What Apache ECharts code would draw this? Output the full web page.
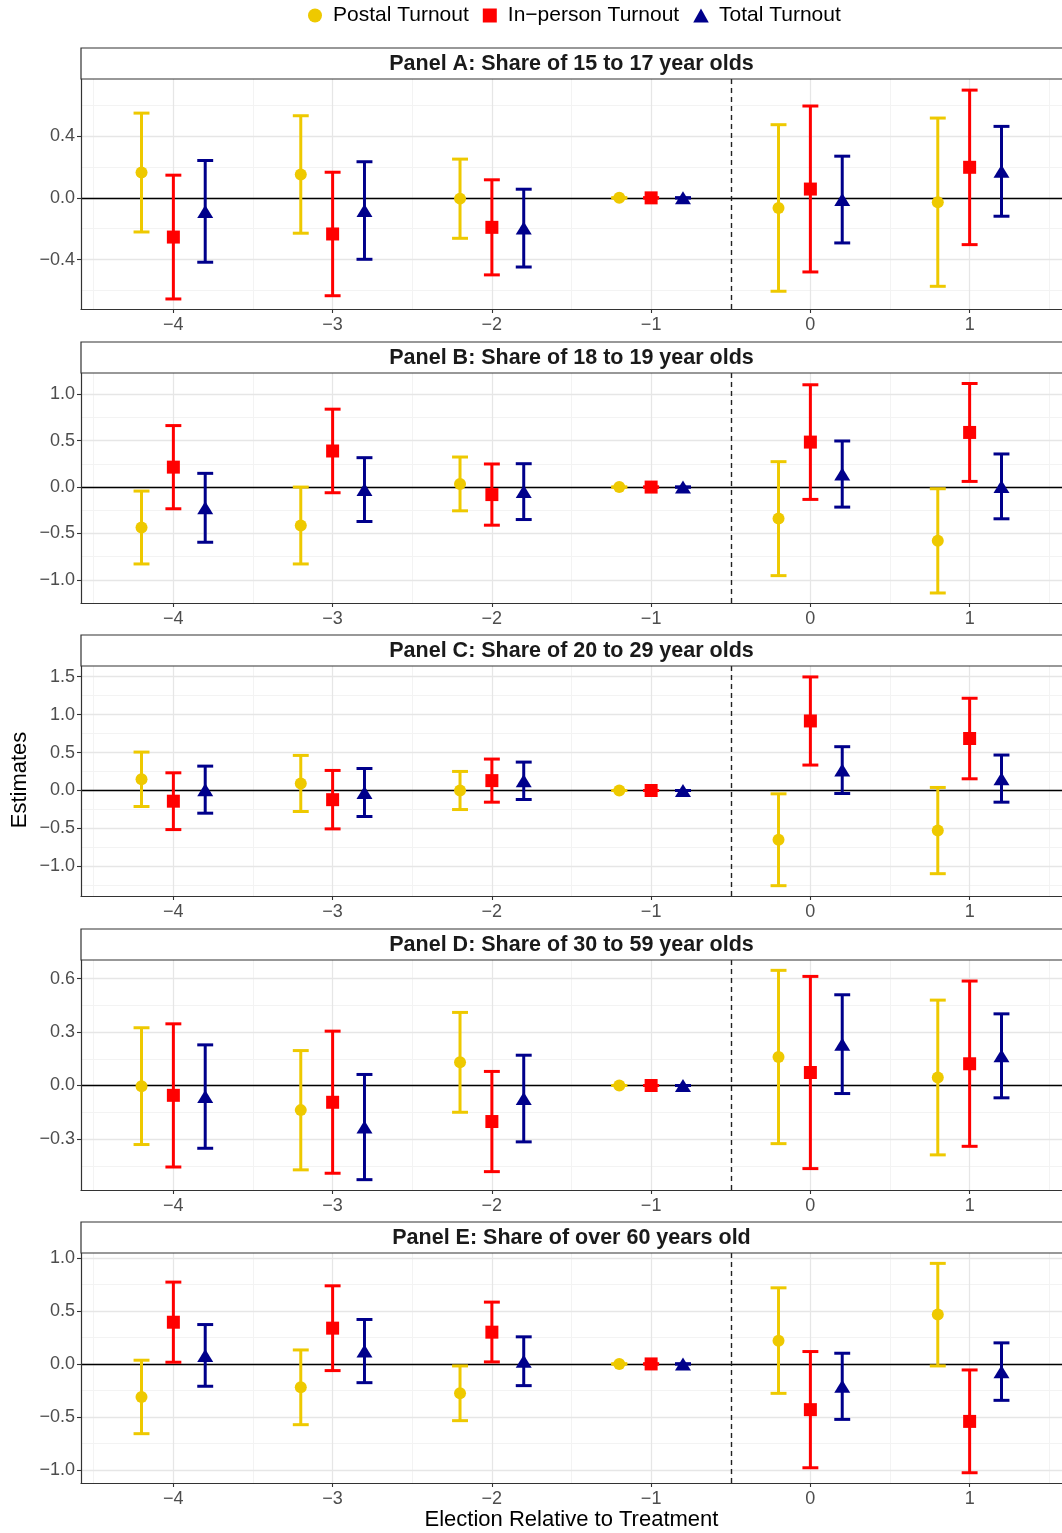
<!DOCTYPE html>
<html>
<head>
<meta charset="utf-8">
<title>Turnout estimates by election</title>
<script src="https://cdn.jsdelivr.net/npm/echarts@6/dist/echarts.min.js"></script>
<style>
  html, body { margin: 0; padding: 0; background: #fff; }
  #chart { width: 1062px; height: 1533px; }
</style>
</head>
<body>
<div id="chart"></div>
<script>
// x categories (elections relative to treatment) and tick labels
const elections = [-4, -3, -2, -1, 0, 1];
const xTicks = [-4, -3, -2, -1, 0, 1];
const seriesNames = ['Postal Turnout', 'In\u2212person Turnout', 'Total Turnout'];
const panelTitles = [
  'Panel A: Share of 15 to 17 year olds',
  'Panel B: Share of 18 to 19 year olds',
  'Panel C: Share of 20 to 29 year olds',
  'Panel D: Share of 30 to 59 year olds',
  'Panel E: Share of over 60 years old'
];

// Panel A
const aPostalEst = [0.164, 0.151, -0.005, 0, -0.066, -0.028];
const aPostalLo = [-0.221, -0.229, -0.262, 0, -0.605, -0.573];
const aPostalHi = [0.549, 0.532, 0.251, 0, 0.474, 0.517];
const aInpersonEst = [-0.254, -0.234, -0.191, 0, 0.057, 0.198];
const aInpersonLo = [-0.655, -0.634, -0.499, 0, -0.480, -0.303];
const aInpersonHi = [0.147, 0.166, 0.117, 0, 0.595, 0.698];
const aTotalEst = [-0.088, -0.082, -0.196, 0, -0.011, 0.172];
const aTotalLo = [-0.417, -0.398, -0.448, 0, -0.292, -0.119];
const aTotalHi = [0.242, 0.234, 0.056, 0, 0.270, 0.463];
const aTicks = [-0.4, 0, 0.4];

// Panel B
const bPostalEst = [-0.436, -0.414, 0.034, 0, -0.340, -0.580];
const bPostalLo = [-0.829, -0.829, -0.256, 0, -0.955, -1.142];
const bPostalHi = [-0.043, 0.000, 0.324, 0, 0.274, -0.018];
const bInpersonEst = [0.215, 0.389, -0.081, 0, 0.485, 0.589];
const bInpersonLo = [-0.234, -0.061, -0.411, 0, -0.133, 0.061];
const bInpersonHi = [0.663, 0.840, 0.249, 0, 1.103, 1.117];
const bTotalEst = [-0.224, -0.027, -0.049, 0, 0.140, 0.007];
const bTotalLo = [-0.595, -0.371, -0.350, 0, -0.216, -0.342];
const bTotalHi = [0.148, 0.317, 0.252, 0, 0.497, 0.357];
const bTicks = [-1, -0.5, 0, 0.5, 1];

// Panel C
const cPostalEst = [0.148, 0.092, 0.000, 0, -0.649, -0.528];
const cPostalLo = [-0.211, -0.277, -0.251, 0, -1.254, -1.096];
const cPostalHi = [0.506, 0.462, 0.251, 0, -0.044, 0.040];
const cInpersonEst = [-0.141, -0.121, 0.130, 0, 0.916, 0.685];
const cInpersonLo = [-0.515, -0.506, -0.154, 0, 0.335, 0.154];
const cInpersonHi = [0.233, 0.264, 0.414, 0, 1.496, 1.215];
const cTotalEst = [0.011, -0.026, 0.128, 0, 0.269, 0.156];
const cTotalLo = [-0.299, -0.343, -0.119, 0, -0.040, -0.154];
const cTotalHi = [0.321, 0.290, 0.374, 0, 0.577, 0.467];
const cTicks = [-1, -0.5, 0, 0.5, 1, 1.5];

// Panel D
const dPostalEst = [-0.004, -0.138, 0.130, 0, 0.160, 0.045];
const dPostalLo = [-0.331, -0.473, -0.150, 0, -0.326, -0.389];
const dPostalHi = [0.324, 0.196, 0.410, 0, 0.646, 0.479];
const dInpersonEst = [-0.055, -0.094, -0.202, 0, 0.073, 0.122];
const dInpersonLo = [-0.457, -0.492, -0.483, 0, -0.466, -0.341];
const dInpersonHi = [0.346, 0.305, 0.079, 0, 0.612, 0.586];
const dTotalEst = [-0.062, -0.233, -0.073, 0, 0.232, 0.167];
const dTotalLo = [-0.352, -0.528, -0.316, 0, -0.045, -0.069];
const dTotalHi = [0.228, 0.062, 0.170, 0, 0.509, 0.402];
const dTicks = [-0.3, 0, 0.3, 0.6];

// Panel E
const ePostalEst = [-0.312, -0.221, -0.278, 0, 0.220, 0.466];
const ePostalLo = [-0.659, -0.574, -0.536, 0, -0.278, -0.019];
const ePostalHi = [0.035, 0.132, -0.019, 0, 0.719, 0.950];
const eInpersonEst = [0.394, 0.338, 0.300, 0, -0.432, -0.543];
const eInpersonLo = [0.016, -0.063, 0.019, 0, -0.981, -1.028];
const eInpersonHi = [0.773, 0.738, 0.584, 0, 0.117, -0.057];
const eTotalEst = [0.080, 0.121, 0.025, 0, -0.211, -0.073];
const eTotalLo = [-0.211, -0.177, -0.205, 0, -0.524, -0.344];
const eTotalHi = [0.372, 0.420, 0.256, 0, 0.101, 0.199];
const eTicks = [-1, -0.5, 0, 0.5, 1];

const panels = [
  { est: [aPostalEst, aInpersonEst, aTotalEst], lo: [aPostalLo, aInpersonLo, aTotalLo], hi: [aPostalHi, aInpersonHi, aTotalHi], ticks: aTicks, range: [-0.72, 0.77] },
  { est: [bPostalEst, bInpersonEst, bTotalEst], lo: [bPostalLo, bInpersonLo, bTotalLo], hi: [bPostalHi, bInpersonHi, bTotalHi], ticks: bTicks, range: [-1.25, 1.23] },
  { est: [cPostalEst, cInpersonEst, cTotalEst], lo: [cPostalLo, cInpersonLo, cTotalLo], hi: [cPostalHi, cInpersonHi, cTotalHi], ticks: cTicks, range: [-1.39, 1.64] },
  { est: [dPostalEst, dInpersonEst, dTotalEst], lo: [dPostalLo, dInpersonLo, dTotalLo], hi: [dPostalHi, dInpersonHi, dTotalHi], ticks: dTicks, range: [-0.586, 0.704] },
  { est: [ePostalEst, eInpersonEst, eTotalEst], lo: [ePostalLo, eInpersonLo, eTotalLo], hi: [ePostalHi, eInpersonHi, eTotalHi], ticks: eTicks, range: [-1.125, 1.048] }
];

const FONT = '"Liberation Sans", Arial, Helvetica, sans-serif';
const colors = ['#EEC900', '#FF0000', '#00008B'];
const symbols = ['circle', 'rect', 'triangle'];
const legendIcons = ['circle', 'path://M0,0H10V10H0Z', 'path://M5,0L10,9H0Z'];
const symbolSizes = [12, 13, [16, 13]];
const dodge = [-0.2, 0, 0.2];
const capHalf = 0.05;
const xRange = [-4.58, 1.58];
const gridTops = [79, 373, 666, 960, 1253];
const gridLeft = 81, gridWidth = 981, gridHeight = 230, stripHeight = 31;

const minus = v => (v < 0 ? '\u2212' : '') + Math.abs(v);

// ggplot style minor breaks: halfway between majors, inside the range
function minorBreaks(ticks, lo, hi) {
  const step = ticks[1] - ticks[0];
  const out = [];
  for (let v = ticks[0] - step / 2; v < hi - 1e-3; v += step) {
    if (v > lo + 1e-3) out.push(+v.toFixed(4));
  }
  return out;
}

function renderErrorBar(params, api) {
  const x = api.value(0), lo = api.value(1), hi = api.value(2);
  const top = api.coord([x, hi]);
  const bot = api.coord([x, lo]);
  const l = api.coord([x - capHalf, hi])[0];
  const r = api.coord([x + capHalf, hi])[0];
  const style = { stroke: api.visual('color'), lineWidth: 3 };
  return {
    type: 'group',
    children: [
      { type: 'line', shape: { x1: top[0], y1: top[1], x2: bot[0], y2: bot[1] }, style },
      { type: 'line', shape: { x1: l, y1: top[1], x2: r, y2: top[1] }, style },
      { type: 'line', shape: { x1: l, y1: bot[1], x2: r, y2: bot[1] }, style }
    ]
  };
}

const grids = [], xAxes = [], yAxes = [], series = [], graphics = [];
const xMinor = minorBreaks(xTicks, xRange[0], xRange[1]);

panels.forEach((p, k) => {
  grids.push({ left: gridLeft, top: gridTops[k], width: gridWidth, height: gridHeight, containLabel: false, outerBoundsMode: 'none' });
  xAxes.push({
    gridIndex: k, type: 'value', min: xRange[0], max: xRange[1],
    minInterval: 1, maxInterval: 1, z: 10,
    axisLine: { show: true, onZero: false, lineStyle: { color: '#333', width: 1.2 } },
    axisTick: { show: true, length: 4, customValues: xTicks, lineStyle: { color: '#333', width: 1.1 } },
    axisLabel: { customValues: xTicks, margin: 7, fontSize: 18, color: '#4d4d4d', fontFamily: FONT, formatter: minus },
    splitLine: { show: false }
  });
  const step = p.ticks[1] - p.ticks[0];
  yAxes.push({
    gridIndex: k, type: 'value', min: p.range[0], max: p.range[1],
    minInterval: step, maxInterval: step, z: 10,
    axisLine: { show: true, onZero: false, lineStyle: { color: '#333', width: 1.2 } },
    axisTick: { show: true, length: 4, customValues: p.ticks, lineStyle: { color: '#333', width: 1.1 } },
    axisLabel: {
      customValues: p.ticks, margin: 6, fontSize: 18, color: '#4d4d4d', fontFamily: FONT,
      formatter: v => (v < 0 ? '\u2212' : '') + Math.abs(v).toFixed(1)
    },
    splitLine: { show: false }
  });

  // panel grid lines
  const gridLines = [];
  minorBreaks(p.ticks, p.range[0], p.range[1]).forEach(v => gridLines.push({ yAxis: v, lineStyle: { color: '#f3f3f3', width: 1, type: 'solid' } }));
  xMinor.forEach(v => gridLines.push({ xAxis: v, lineStyle: { color: '#f3f3f3', width: 1, type: 'solid' } }));
  p.ticks.forEach(v => gridLines.push({ yAxis: v, lineStyle: { color: '#e6e6e6', width: 1.3, type: 'solid' } }));
  xTicks.forEach(v => gridLines.push({ xAxis: v, lineStyle: { color: '#e6e6e6', width: 1.3, type: 'solid' } }));
  series.push({
    type: 'line', xAxisIndex: k, yAxisIndex: k, data: [], z: 1, silent: true,
    markLine: { z: 1, silent: true, symbol: ['none', 'none'], label: { show: false }, animation: false, data: gridLines }
  });
  // reference lines: zero and treatment cut-off
  series.push({
    type: 'line', xAxisIndex: k, yAxisIndex: k, data: [], z: 2, silent: true,
    markLine: {
      z: 2, silent: true, symbol: ['none', 'none'], label: { show: false }, animation: false,
      data: [
        { yAxis: 0, lineStyle: { color: '#000', width: 1.3, type: 'solid' } },
        { xAxis: -0.5, lineStyle: { color: '#222', width: 1.4, type: [5, 4] } }
      ]
    }
  });

  seriesNames.forEach((name, s) => {
    series.push({
      name, type: 'custom', xAxisIndex: k, yAxisIndex: k, z: 3,
      itemStyle: { color: colors[s] },
      renderItem: renderErrorBar,
      encode: { x: 0, y: [1, 2] },
      data: elections.map((e, i) => [e + dodge[s], p.lo[s][i], p.hi[s][i]])
    });
    series.push({
      name, type: 'scatter', xAxisIndex: k, yAxisIndex: k, z: 4,
      symbol: symbols[s], symbolSize: symbolSizes[s],
      itemStyle: { color: colors[s], opacity: 1 },
      data: elections.map((e, i) => [e + dodge[s], p.est[s][i]])
    });
  });

  // facet strip
  const stripTop = gridTops[k] - stripHeight;
  graphics.push({
    type: 'rect', z: 20, silent: true,
    shape: { x: gridLeft, y: stripTop, width: gridWidth + 4, height: stripHeight },
    style: { fill: '#fff', stroke: '#333', lineWidth: 1.2 }
  });
  graphics.push({
    type: 'text', z: 21, silent: true, x: gridLeft + gridWidth / 2, y: stripTop + stripHeight / 2 + 1,
    style: { text: panelTitles[k], font: 'bold 21.5px ' + FONT, fill: '#1a1a1a', textAlign: 'center', textVerticalAlign: 'middle' }
  });
});

graphics.push({
  type: 'text', z: 21, silent: true, x: 20, y: 780, rotation: Math.PI / 2,
  style: { text: 'Estimates', font: '22px ' + FONT, fill: '#000', textAlign: 'center', textVerticalAlign: 'middle' }
});
graphics.push({
  type: 'text', z: 21, silent: true, x: gridLeft + gridWidth / 2, y: 1520,
  style: { text: 'Election Relative to Treatment', font: '22px ' + FONT, fill: '#000', textAlign: 'center', textVerticalAlign: 'middle' }
});

const chart = echarts.init(document.getElementById('chart'), null, { renderer: 'canvas' });
chart.setOption({
  animation: false,
  backgroundColor: '#fff',
  textStyle: { fontFamily: FONT },
  legend: {
    left: 303, top: 0, itemWidth: 26, itemHeight: 14, itemGap: 14, symbolKeepAspect: true,
    textStyle: { fontSize: 21, color: '#000', fontFamily: FONT },
    data: seriesNames.map((n, s) => ({ name: n, icon: legendIcons[s], itemStyle: { color: colors[s] } }))
  },
  grid: grids,
  xAxis: xAxes,
  yAxis: yAxes,
  series,
  graphic: graphics
});
</script>
</body>
</html>
